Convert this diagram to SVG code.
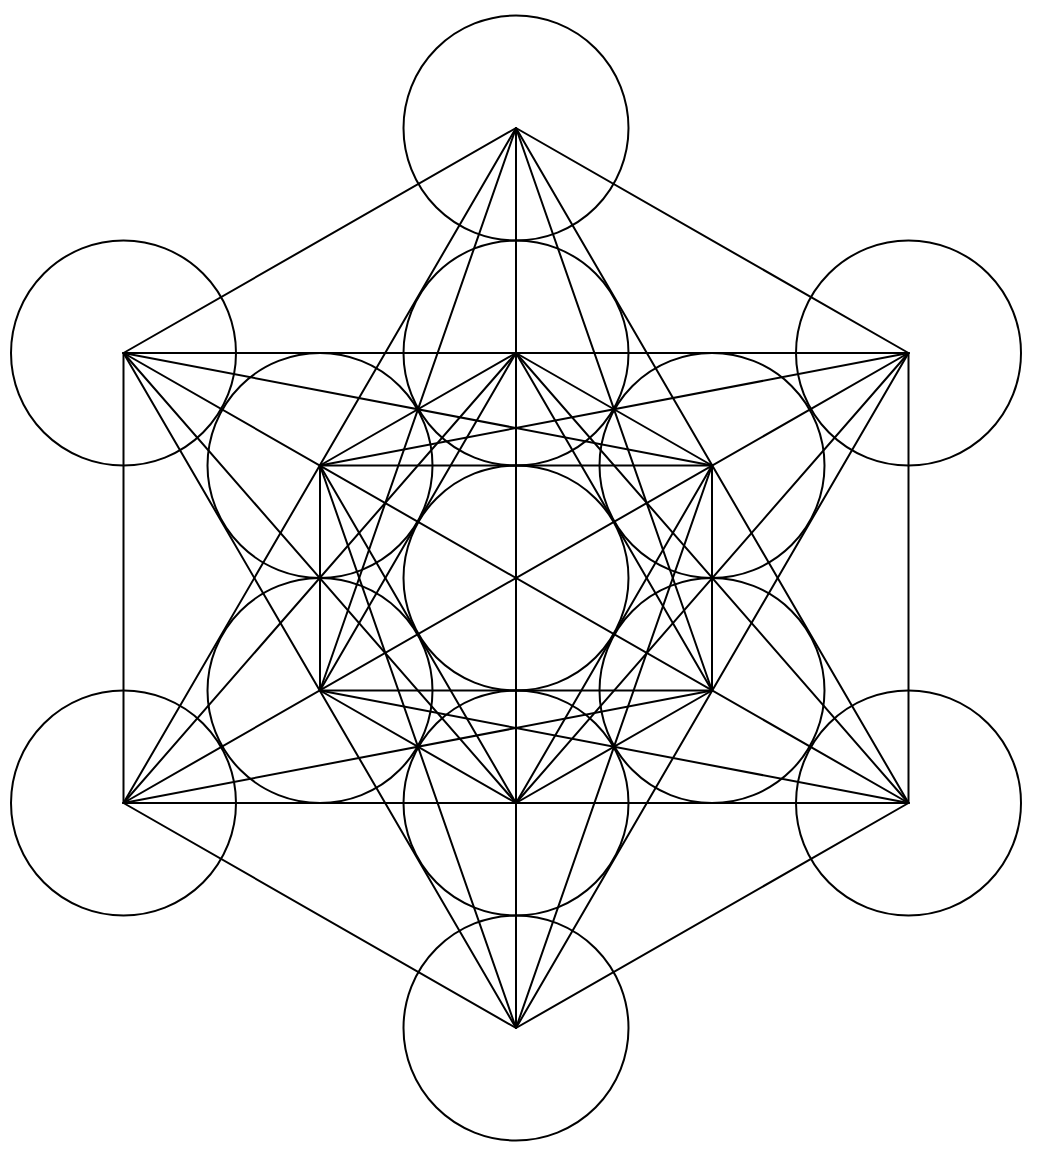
<svg xmlns="http://www.w3.org/2000/svg" width="1042" height="1155" viewBox="0 0 1042 1155">
<style>
circle{fill:none;stroke:#000;stroke-width:2}
line{stroke:#000;stroke-width:2;stroke-linecap:round}
</style>
<rect width="1042" height="1155" fill="#fff"/>
<g id="circles">
<g id="c0"><circle cx="516" cy="578" r="112.5"/></g>
<g id="c1"><circle cx="516" cy="353" r="112.5"/></g>
<g id="c2"><circle cx="712" cy="465.5" r="112.5"/></g>
<g id="c3"><circle cx="712" cy="690.5" r="112.5"/></g>
<g id="c4"><circle cx="516" cy="803" r="112.5"/></g>
<g id="c5"><circle cx="320" cy="690.5" r="112.5"/></g>
<g id="c6"><circle cx="320" cy="465.5" r="112.5"/></g>
<g id="c7"><circle cx="516" cy="128" r="112.5"/></g>
<g id="c8"><circle cx="908.5" cy="353" r="112.5"/></g>
<g id="c9"><circle cx="908.5" cy="803" r="112.5"/></g>
<g id="c10"><circle cx="516" cy="1028" r="112.5"/></g>
<g id="c11"><circle cx="123.5" cy="803" r="112.5"/></g>
<g id="c12"><circle cx="123.5" cy="353" r="112.5"/></g>
</g>
<g id="connectors">
<line x1="516" y1="128" x2="516" y2="1028"/>
<line x1="123.5" y1="353" x2="908.5" y2="803"/>
<line x1="908.5" y1="353" x2="123.5" y2="803"/>
<line x1="123.5" y1="353" x2="908.5" y2="353"/>
<line x1="123.5" y1="803" x2="908.5" y2="803"/>
<line x1="320" y1="465.5" x2="712" y2="465.5"/>
<line x1="320" y1="690.5" x2="712" y2="690.5"/>
<line x1="123.5" y1="353" x2="123.5" y2="803"/>
<line x1="908.5" y1="353" x2="908.5" y2="803"/>
<line x1="320" y1="465.5" x2="320" y2="690.5"/>
<line x1="712" y1="465.5" x2="712" y2="690.5"/>
<line x1="516" y1="128" x2="123.5" y2="803"/>
<line x1="516" y1="128" x2="908.5" y2="803"/>
<line x1="516" y1="1028" x2="123.5" y2="353"/>
<line x1="516" y1="1028" x2="908.5" y2="353"/>
<line x1="516" y1="353" x2="712" y2="465.5"/>
<line x1="516" y1="353" x2="712" y2="690.5"/>
<line x1="516" y1="353" x2="320" y2="690.5"/>
<line x1="516" y1="353" x2="320" y2="465.5"/>
<line x1="516" y1="353" x2="908.5" y2="803"/>
<line x1="516" y1="353" x2="123.5" y2="803"/>
<line x1="712" y1="465.5" x2="516" y2="803"/>
<line x1="712" y1="465.5" x2="516" y2="1028"/>
<line x1="712" y1="465.5" x2="123.5" y2="353"/>
<line x1="712" y1="690.5" x2="516" y2="803"/>
<line x1="712" y1="690.5" x2="516" y2="128"/>
<line x1="712" y1="690.5" x2="123.5" y2="803"/>
<line x1="516" y1="803" x2="320" y2="690.5"/>
<line x1="516" y1="803" x2="320" y2="465.5"/>
<line x1="516" y1="803" x2="908.5" y2="353"/>
<line x1="516" y1="803" x2="123.5" y2="353"/>
<line x1="320" y1="690.5" x2="516" y2="128"/>
<line x1="320" y1="690.5" x2="908.5" y2="803"/>
<line x1="320" y1="465.5" x2="908.5" y2="353"/>
<line x1="320" y1="465.5" x2="516" y2="1028"/>
<line x1="516" y1="128" x2="908.5" y2="353"/>
<line x1="516" y1="128" x2="123.5" y2="353"/>
<line x1="908.5" y1="803" x2="516" y2="1028"/>
<line x1="516" y1="1028" x2="123.5" y2="803"/>
</g>
</svg>
